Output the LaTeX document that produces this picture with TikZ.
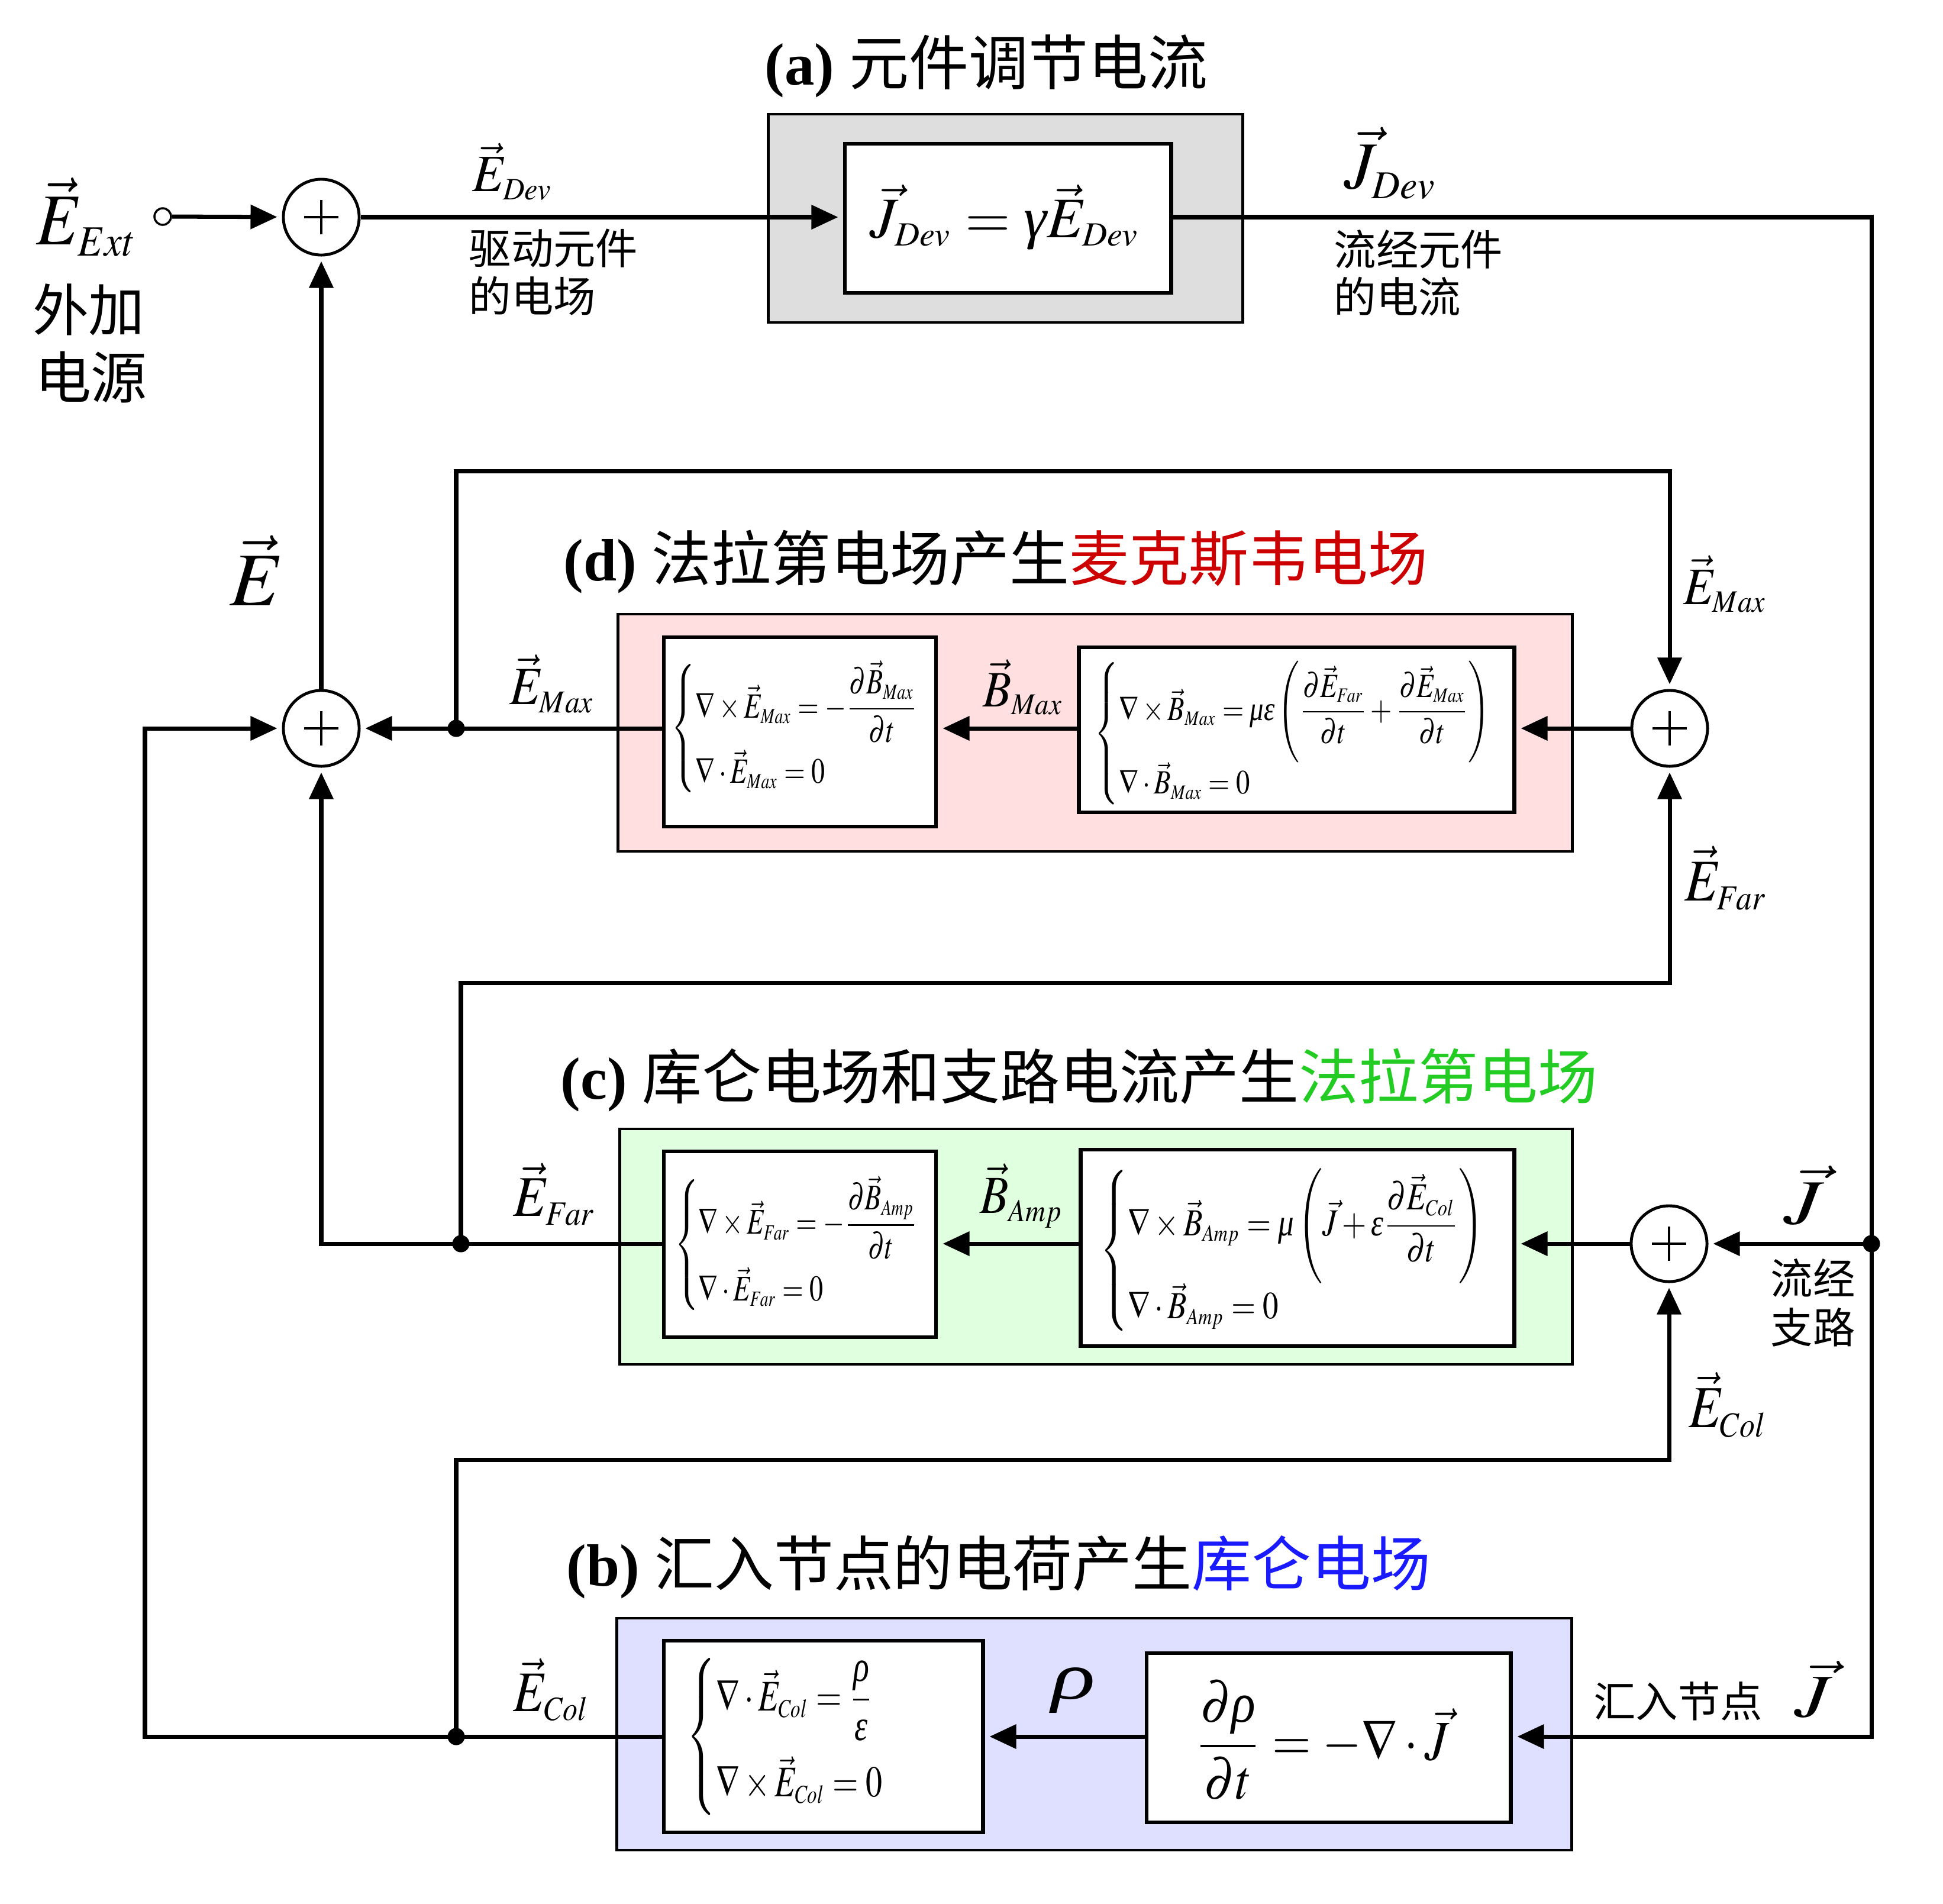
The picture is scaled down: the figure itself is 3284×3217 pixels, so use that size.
\documentclass[tikz,border=0pt]{standalone}
\usepackage{amsmath}
\usepackage{mathptmx}
\usepackage{fontspec}
\setmainfont{Liberation Serif}
\newfontfamily\cjk{Noto Sans CJK SC}
\usepackage{graphicx}
\usetikzlibrary{arrows.meta}
\definecolor{grayfill}{RGB}{222,222,222}
\definecolor{pinkfill}{RGB}{255,223,223}
\definecolor{greenfill}{RGB}{223,255,223}
\definecolor{bluefill}{RGB}{223,223,255}
\definecolor{tred}{RGB}{204,0,0}
\definecolor{tgreen}{RGB}{34,204,34}
\definecolor{tblue}{RGB}{26,26,255}
\newlength\pxu \setlength\pxu{0.01cm}
\newcommand{\fitto}[3]{\resizebox*{#1\pxu}{#2\pxu}{$\displaystyle #3$}}
\newcommand{\tsub}[1]{_{\scriptscriptstyle #1}}
\newcommand{\lsub}[1]{_{\scalebox{0.8}{$\scriptstyle #1$}}}
\newcommand{\grk}[1]{\text{\itshape #1}}
\begin{document}
\begin{tikzpicture}[x=0.01cm,y=-0.01cm,
  conn/.style={line width=2pt},
  arr/.style={line width=2pt,-{Triangle[length=0.45cm,width=0.40cm]},shorten >=0.08cm},
  sumnode/.style={circle,draw,line width=1.4pt,minimum size=1.28cm,inner sep=0pt,fill=white,
     path picture={\draw[line width=1.1pt] ([xshift=-0.29cm]path picture bounding box.center) -- ([xshift=0.29cm]path picture bounding box.center);
                   \draw[line width=1.1pt] ([yshift=-0.29cm]path picture bounding box.center) -- ([yshift=0.29cm]path picture bounding box.center);}},
  jdot/.style={circle,fill=black,inner sep=0pt,minimum size=0.29cm},
  obox/.style={draw,line width=1.3pt,inner sep=0pt},
  ibox/.style={draw,line width=1.9pt,fill=white,inner sep=0pt},
  lbl/.style={inner sep=0pt},
  ttl/.style={inner sep=0pt,anchor=base,font=\fontsize{28.7pt}{34pt}\selectfont},
  bigcn/.style={inner sep=0pt,anchor=base,font=\fontsize{27pt}{32pt}\selectfont\cjk},
  sml/.style={inner sep=0pt,anchor=base west,font=\fontsize{20.3pt}{24pt}\selectfont\cjk},
]
\fill[white] (0,0) rectangle (3284,3217);
\useasboundingbox (0,0) rectangle (3284,3217);

% ---------- titles ----------
\node[ttl] (ta) at (1667,143) {\textbf{(a)} {\cjk 元件调节电流}};
\node[ttl] (td) at (1683,981) {\textbf{(d)} {\cjk 法拉第电场产生\textcolor{tred}{麦克斯韦电场}}};
\node[ttl] (tc) at (1824,1857) {\textbf{(c)} {\cjk 库仑电场和支路电流产生\textcolor{tgreen}{法拉第电场}}};
\node[ttl] (tb) at (1688,2680) {\textbf{(b)} {\cjk 汇入节点的电荷产生\textcolor{tblue}{库仑电场}}};

% ---------- boxes ----------
\node[obox,fill=grayfill,minimum width=8.01cm,minimum height=3.52cm] (ga) at (1699.5,369) {};
\node[ibox,minimum width=5.51cm,minimum height=2.52cm] (ia) at (1703.5,369) {};

\node[obox,fill=pinkfill,minimum width=16.12cm,minimum height=4.01cm] (pk) at (1851,1238.5) {};
\node[ibox,minimum width=4.60cm,minimum height=3.20cm] (ld) at (1352,1237) {};
\node[ibox,minimum width=7.35cm,minimum height=2.79cm] (rd) at (2191.5,1233.5) {};

\node[obox,fill=greenfill,minimum width=16.09cm,minimum height=3.98cm] (gr) at (1852.5,2107) {};
\node[ibox,minimum width=4.60cm,minimum height=3.14cm] (lc) at (1352,2103) {};
\node[ibox,minimum width=7.32cm,minimum height=3.32cm] (rc) at (2193,2109) {};

\node[obox,fill=bluefill,minimum width=16.13cm,minimum height=3.92cm] (bl) at (1849.5,2931) {};
\node[ibox,minimum width=5.39cm,minimum height=3.24cm] (lb) at (1391.5,2935) {};
\node[ibox,minimum width=6.15cm,minimum height=2.86cm] (rb) at (2245.5,2937) {};

% ---------- equations ----------
\node[lbl] (eqa) at (1699,367) {\fitto{456}{110}{\vec{J}\lsub{Dev}=\grk{γ}\vec{E}\lsub{Dev}}};
\node[lbl] (eqdl) at (1345.5,1231) {\fitto{421}{228}{\left\{\begin{array}{@{}l@{}}\nabla\times\vec{E}\tsub{Max}=-\dfrac{\partial\vec{B}\tsub{Max}}{\partial t}\\[1.2ex]\nabla\cdot\vec{E}\tsub{Max}=0\end{array}\right.}};
\node[lbl] (eqdr) at (2187,1239.5) {\fitto{674}{245}{\left\{\begin{array}{@{}l@{}}\nabla\times\vec{B}\tsub{Max}=\grk{με}\left(\dfrac{\partial\vec{E}\tsub{Far}}{\partial t}+\dfrac{\partial\vec{E}\tsub{Max}}{\partial t}\right)\\[1.5ex]\nabla\cdot\vec{B}\tsub{Max}=0\end{array}\right.}};
\node[lbl] (eqcl) at (1348,2104) {\fitto{416}{232}{\left\{\begin{array}{@{}l@{}}\nabla\times\vec{E}\tsub{Far}=-\dfrac{\partial\vec{B}\tsub{Amp}}{\partial t}\\[1.2ex]\nabla\cdot\vec{E}\tsub{Far}=0\end{array}\right.}};
\node[lbl] (eqcr) at (2186.5,2113.5) {\fitto{655}{277}{\left\{\begin{array}{@{}l@{}}\nabla\times\vec{B}\tsub{Amp}=\grk{μ}\left(\vec{J}+\grk{ε}\dfrac{\partial\vec{E}\tsub{Col}}{\partial t}\right)\\[1.5ex]\nabla\cdot\vec{B}\tsub{Amp}=0\end{array}\right.}};
\node[lbl] (eqbl) at (1329.5,2935) {\fitto{337}{266}{\left\{\begin{array}{@{}l@{}}\nabla\cdot\vec{E}\lsub{Col}=\dfrac{\grk{ρ}}{\grk{ε}}\\[1.5ex]\nabla\times\vec{E}\lsub{Col}=0\end{array}\right.}};
\node[lbl] (eqbr) at (2234.5,2941) {\fitto{431}{202}{\dfrac{\partial\grk{ρ}}{\partial t}=-\nabla\cdot\vec{J}}};

% ---------- labels ----------
\node[lbl] (lExt) at (148,366.5) {\fitto{172}{133}{\vec{E}\lsub{Ext}}};
\node[bigcn] (wj) at (150,559) {外加};
\node[bigcn] (dy) at (154,673) {电源};
\node[lbl] (lEDev) at (866.5,290) {\fitto{137}{96}{\vec{E}\lsub{Dev}}};
\node[sml] (qd1) at (792,446) {驱动元件};
\node[sml] (qd2) at (792,527) {的电场};
\node[lbl] (lJDev) at (2351,276) {\fitto{158}{122}{\vec{J}\lsub{Dev}}};
\node[sml] (lj1) at (2254,448) {流经元件};
\node[sml] (lj2) at (2254,528) {的电流};
\node[lbl] (lE) at (433.5,964) {\fitto{91}{118}{\vec{E}}};
\node[lbl] (lEMaxR) at (2916,987) {\fitto{142}{96}{\vec{E}\lsub{Max}}};
\node[lbl] (lEFarR) at (2917.5,1484) {\fitto{141}{108}{\vec{E}\lsub{Far}}};
\node[lbl] (lEMaxL) at (933.5,1156) {\fitto{145}{98}{\vec{E}\lsub{Max}}};
\node[lbl] (lBMax) at (1729.5,1161.5) {\fitto{137}{93}{\vec{B}\lsub{Max}}};
\node[lbl] (lEFarL) at (938,2018.5) {\fitto{140}{105}{\vec{E}\lsub{Far}}};
\node[lbl] (lBAmp) at (1727,2021) {\fitto{142}{108}{\vec{B}\lsub{Amp}}};
\node[lbl] (lJc) at (3049,2020) {\fitto{68}{100}{\vec{J}}};
\node[sml,anchor=base] (lz1) at (3064,2187) {流经};
\node[sml,anchor=base] (lz2) at (3064,2270) {支路};
\node[lbl] (lEColR) at (2921,2374.5) {\fitto{134}{109}{\vec{E}\lsub{Col}}};
\node[lbl] (lEColL) at (932.5,2855.5) {\fitto{129}{105}{\vec{E}\lsub{Col}}};
\node[lbl] (lrho) at (1814,2856.5) {\fitto{74}{77}{\grk{ρ}}};
\node[sml,anchor=base] (hr) at (2836,2902) {汇入节点};
\node[lbl] (lJb) at (3065,2855) {\fitto{64}{96}{\vec{J}}};

% ---------- summing points ----------
\node[circle,draw,line width=1pt,minimum size=0.28cm,inner sep=0pt,fill=white] (src) at (275,366) {};
\node[sumnode] (s1) at (543,367) {};
\node[sumnode] (s2) at (543,1231) {};
\node[sumnode] (sd) at (2822,1231) {};
\node[sumnode] (sc) at (2821,2102) {};

% junction coordinates
\coordinate (jd) at (771,1231);
\coordinate (jc) at (779,2102);
\coordinate (jb) at (771,2935);
\coordinate (jr) at (3163,2102);
\coordinate (tr) at (3163,367);
\coordinate (brc) at (3163,2935);
\coordinate (cl) at (543,2102);
\coordinate (fl1) at (245,2935);
\coordinate (fl2) at (245,1231);
\coordinate (d1) at (771,796);
\coordinate (d2) at (2822,796);
\coordinate (c1) at (779,1661);
\coordinate (c2) at (2822,1661);
\coordinate (b1) at (771,2467);
\coordinate (b2) at (2821,2467);

% ---------- connectors ----------
\draw[arr] (src) -- (s1);
\draw[arr] (s1) -- (ia.west |- s1);
\draw[arr] (ia.east |- s1) -- (tr) -- (brc) -- (rb.east |- jb);
\draw[arr] (s2) -- (s1);

\draw[arr] (ld.west |- s2) -- (s2);
\draw[arr] (rd.west |- sd) -- (ld.east |- sd);
\draw[arr] (sd) -- (rd.east |- sd);
\draw[arr] (jd) -- (d1) -- (d2) -- (sd);

\draw[arr] (lc.west |- jc) -- (cl) -- (s2);
\draw[arr] (rc.west |- sc) -- (lc.east |- sc);
\draw[arr] (sc) -- (rc.east |- sc);
\draw[arr] (jr) -- (sc);
\draw[arr] (jc) -- (c1) -- (c2) -- (sd);

\draw[arr] (lb.west |- jb) -- (fl1) -- (fl2) -- (s2);
\draw[arr] (rb.west |- jb) -- (lb.east |- jb);
\draw[arr] (jb) -- (b1) -- (b2) -- (sc);

% ---------- junction dots ----------
\node[jdot] (dotd) at (jd) {};
\node[jdot] (dotc) at (jc) {};
\node[jdot] (dotb) at (jb) {};
\node[jdot] (dotr) at (jr) {};
\end{tikzpicture}
\end{document}
